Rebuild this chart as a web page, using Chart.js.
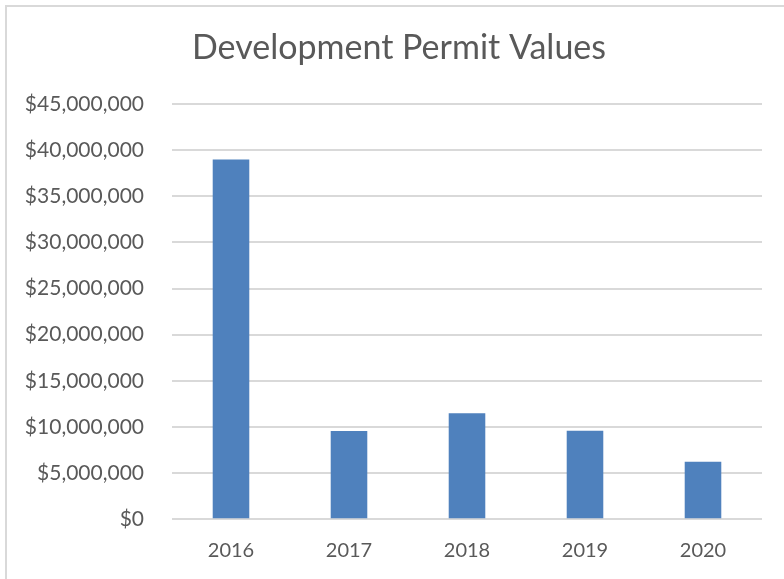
<!DOCTYPE html>
<html>
<head>
<meta charset="utf-8">
<script src="https://cdn.jsdelivr.net/npm/chart.js@4/dist/chart.umd.min.js"></script>
<style>
  html, body { margin: 0; padding: 0; background: #ffffff; overflow: hidden; }
  #wrap { position: relative; width: 784px; height: 579px; }
  #frame { position: absolute; left: 5px; top: 5px; width: 820px; height: 620px; border: 2px solid #D9D9D9; box-sizing: border-box; pointer-events: none; }
  canvas { position: absolute; left: 0; top: 0; }
</style>
</head>
<body>
<div id="wrap">
  <div id="frame"></div>
  <canvas id="c" width="784" height="579"></canvas>
</div>
<script>
const chartTitle = "Development Permit Values";
const categories = ["2016", "2017", "2018", "2019", "2020"];
const permitValues = [38980000, 9570000, 11480000, 9600000, 6230000];
const yTicks = [0, 5000000, 10000000, 15000000, 20000000, 25000000, 30000000, 35000000, 40000000, 45000000];

const textColor = "#595959";
const fontFamily = "Lato, 'Open Sans', sans-serif";

new Chart(document.getElementById("c"), {
  type: "bar",
  data: {
    labels: categories,
    datasets: [{
      label: chartTitle,
      data: permitValues,
      yAxisID: "y",
      backgroundColor: "#4F81BD",
      borderWidth: 0,
      categoryPercentage: 1.0,
      barPercentage: 0.31
    }]
  },
  options: {
    responsive: false,
    animation: false,
    layout: { padding: { left: 14, right: 0, top: 0, bottom: 0 } },
    plugins: {
      legend: { display: false },
      tooltip: { enabled: false },
      title: {
        display: true,
        text: chartTitle,
        color: textColor,
        font: { family: fontFamily, size: 34, weight: 400, lineHeight: 1.2 },
        padding: { top: 27.6, bottom: 35.6 }
      }
    },
    scales: {
      x: {
        grid: { display: false, drawTicks: false },
        border: { display: false },
        ticks: {
          color: textColor,
          font: { family: fontFamily, size: 20 },
          padding: 19,
          maxRotation: 0
        },
        afterFit: (s) => { s.height = 59.7; }
      },
      y: {
        position: "left",
        min: yTicks[0],
        max: yTicks[yTicks.length - 1],
        afterBuildTicks: (s) => { s.ticks = yTicks.map(v => ({ value: v })); },
        grid: { color: "#D9D9D9", lineWidth: 2, drawTicks: false },
        border: { display: false },
        ticks: {
          color: textColor,
          font: { family: fontFamily, size: 21 },
          padding: 28,
          callback: (v) => "$" + Number(v).toLocaleString("en-US")
        },
        afterFit: (s) => { s.width = 158; }
      },
      yRight: {
        type: "linear",
        position: "right",
        display: true,
        grid: { display: false, drawTicks: false },
        border: { display: false },
        ticks: { display: false },
        afterFit: (s) => { s.width = 22; }
      }
    }
  }
});
</script>
</body>
</html>
